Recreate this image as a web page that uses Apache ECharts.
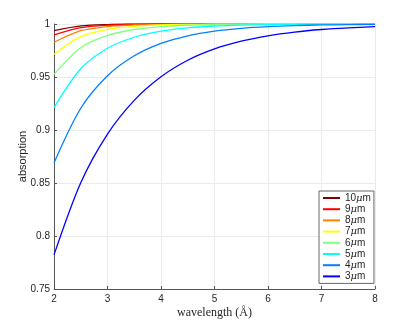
<!DOCTYPE html>
<html>
<head>
<meta charset="utf-8">
<script src="https://cdn.jsdelivr.net/npm/echarts@6/dist/echarts.min.js"></script>
<style>
    html,body{margin:0;padding:0;background:#fff;}
    #chart{width:415px;height:325px;}
</style>
</head>
<body>
<div id="chart"></div>
<script>
    // wavelength in angstrom
    var wavelength = [2, 2.5, 3, 3.5, 4, 4.5, 5, 5.5, 6, 6.5, 7, 7.5, 8];
    // absorption per thickness
    var abs10 = [0.9938, 0.9982, 0.9995, 0.9998, 1.0000, 1.0000, 1.0000, 1.0000, 1.0000, 1.0000, 1.0000, 1.0000, 1.0000];
    var abs9  = [0.9897, 0.9966, 0.9989, 0.9996, 0.9999, 1.0000, 1.0000, 1.0000, 1.0000, 1.0000, 1.0000, 1.0000, 1.0000];
    var abs8  = [0.9828, 0.9937, 0.9976, 0.9991, 0.9997, 0.9999, 1.0000, 1.0000, 1.0000, 1.0000, 1.0000, 1.0000, 1.0000];
    var abs7  = [0.9714, 0.9881, 0.9949, 0.9978, 0.9991, 0.9996, 0.9998, 0.9999, 1.0000, 1.0000, 1.0000, 1.0000, 1.0000];
    var abs6  = [0.9525, 0.9776, 0.9892, 0.9948, 0.9975, 0.9988, 0.9994, 0.9997, 0.9999, 0.9999, 1.0000, 1.0000, 1.0000];
    var abs5  = [0.9211, 0.9578, 0.9771, 0.9875, 0.9933, 0.9964, 0.9981, 0.9990, 0.9994, 0.9997, 0.9998, 0.9999, 1.0000];
    var abs4  = [0.8689, 0.9205, 0.9512, 0.9700, 0.9817, 0.9889, 0.9933, 0.9959, 0.9975, 0.9985, 0.9991, 0.9994, 0.9997];
    var abs3  = [0.7822, 0.8503, 0.8962, 0.9280, 0.9502, 0.9658, 0.9765, 0.9838, 0.9889, 0.9924, 0.9948, 0.9964, 0.9975];

    var names  = ['10μm', '9μm', '8μm', '7μm', '6μm', '5μm', '4μm', '3μm'];
    var values = [abs10, abs9, abs8, abs7, abs6, abs5, abs4, abs3];
    var colors = ['#800000', '#ff0000', '#ff8000', '#ffff00', '#80ff80', '#00ffff', '#0080ff', '#0000ff'];

    var axisColor = '#555';
    var labelColor = '#262626';

    var series = names.map(function(n, i){
        return {
            name: n,
            type: 'line',
            symbol: 'none',
            smooth: 0.3,
            clip: false,
            lineStyle: {color: colors[i], width: 1.3},
            itemStyle: {color: colors[i]},
            data: wavelength.map(function(x, j){ return [x, values[i][j]]; })
        };
    });

    var myChart = echarts.init(document.getElementById('chart'));
    var option = {
        animation: false,
        grid: {left: 54, right: 40, top: 24, bottom: 36, containLabel: false},
        legend: {
            orient: 'vertical',
            left: 319,
            top: 191,
            data: names,
            itemWidth: 17,
            itemHeight: 10,
            itemGap: 1.2,
            padding: [2, 3, 2, 3],
            borderColor: '#666',
            borderWidth: 1,
            backgroundColor: '#fff',
            lineStyle: {width: 2},
            itemStyle: {opacity: 0},
            formatter: function(name){
                return name.replace('μ', '{mu|μ}');
            },
            textStyle: {
                fontFamily: 'Liberation Sans',
                fontSize: 10,
                lineHeight: 10,
                color: labelColor,
                rich: {
                    mu: {fontFamily: 'DejaVu Serif', fontStyle: 'italic', fontSize: 10, color: labelColor}
                }
            }
        },
        xAxis: {
            type: 'value',
            min: 2,
            max: 8,
            interval: 1,
            name: 'wavelength (Å)',
            nameLocation: 'middle',
            nameGap: 18,
            nameMoveOverlap: false,
            nameTextStyle: {fontFamily: 'Liberation Serif', fontSize: 12, color: labelColor},
            axisLine: {lineStyle: {color: axisColor}},
            axisTick: {inside: true, length: 3, lineStyle: {color: axisColor}},
            axisLabel: {fontFamily: 'Liberation Sans', fontSize: 10, color: labelColor, margin: 5},
            splitLine: {show: true, lineStyle: {color: '#ebebeb'}}
        },
        yAxis: {
            type: 'value',
            min: 0.75,
            max: 1,
            interval: 0.05,
            name: 'absorption',
            nameLocation: 'middle',
            nameGap: 26,
            nameMoveOverlap: false,
            nameTextStyle: {fontFamily: 'Liberation Sans', fontSize: 11, color: labelColor},
            axisLine: {show: true, lineStyle: {color: axisColor}},
            axisTick: {show: true, inside: true, length: 3, lineStyle: {color: axisColor}},
            axisLabel: {fontFamily: 'Liberation Sans', fontSize: 10, color: labelColor, margin: 4},
            splitLine: {show: true, lineStyle: {color: '#ebebeb'}}
        },
        series: series
    };
    myChart.setOption(option);
</script>
</body>
</html>
